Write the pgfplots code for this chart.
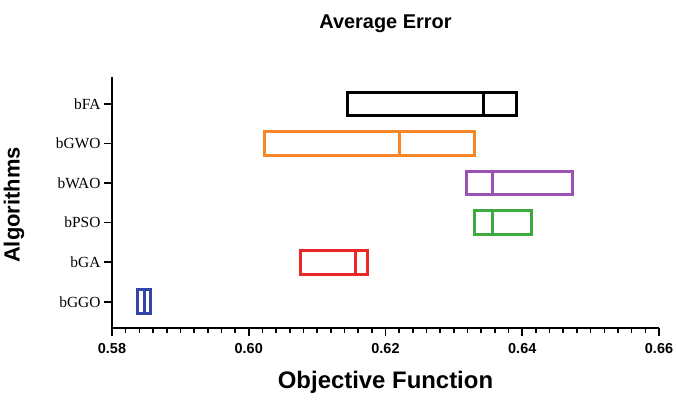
\documentclass[border=0pt]{standalone}
\usepackage{pgfplots}
\pgfplotsset{compat=1.18}
\usepgfplotslibrary{statistics}
\usepackage{fontspec}
\setmainfont{Liberation Sans}
\newfontfamily\seriffont{Liberation Serif}
\definecolor{cOrange}{RGB}{245,135,40}
\definecolor{cPurple}{RGB}{155,80,180}
\definecolor{cGreen}{RGB}{60,170,60}
\definecolor{cRed}{RGB}{235,40,40}
\definecolor{cBlue}{RGB}{50,70,170}
\begin{document}
\begin{tikzpicture}[x=1bp,y=1bp]
\path[use as bounding box] (0,0) rectangle (676,399);
\begin{axis}[
  at={(112bp,71bp)}, anchor=south west,
  scale only axis, width=547bp, height=251bp,
  xmin=0.58, xmax=0.66, ymin=-0.66, ymax=5.68,
  axis x line*=bottom, axis y line*=left,
  axis line style={line width=2.2bp, -},
  every tick/.style={black, line width=1.6bp},
  tick align=outside,
  major tick length=8bp, minor tick length=4.5bp,
  xtick={0.58,0.60,0.62,0.64,0.66},
  minor x tick num=9,
  ytick={0,1,2,3,4,5},
  yticklabels={bGGO,bGA,bPSO,bWAO,bGWO,bFA},
  /pgf/number format/assume math mode=true,
  xticklabel style={/pgf/number format/.cd, fixed, fixed zerofill, precision=2, /tikz/.cd, font=\bfseries\fontsize{14.5}{14.5}\selectfont, yshift=-4bp},
  yticklabel style={font=\seriffont\fontsize{15.5}{15.5}\selectfont},
  every axis title shift=0pt,
  title={Average Error},
  title style={at={(axis description cs:0.5,1.195)}, anchor=base, font=\bfseries\fontsize{20}{20}\selectfont},
  xlabel={Objective Function},
  xlabel style={at={(axis description cs:0.5,-0.243)}, anchor=base, font=\bfseries\fontsize{24}{24}\selectfont},
  ylabel={Algorithms},
  ylabel style={at={(axis description cs:-0.179,0.49)}, anchor=center, rotate=0, font=\bfseries\fontsize{22}{22}\selectfont},
  boxplot/every box/.style={line width=3bp},
  boxplot/every median/.style={line width=3bp},
  boxplot/every whisker/.style={line width=3bp},
  clip=false,
]
\addplot[black, line width=3bp, boxplot prepared={draw position=5, lower whisker=0.6144, lower quartile=0.6144, median=0.6343, upper quartile=0.6392, upper whisker=0.6392, box extend=0.6, whisker extend=0}] coordinates {};
\addplot[cOrange, line width=3bp, boxplot prepared={draw position=4, lower whisker=0.6023, lower quartile=0.6023, median=0.6221, upper quartile=0.6330, upper whisker=0.6330, box extend=0.6, whisker extend=0}] coordinates {};
\addplot[cPurple, line width=3bp, boxplot prepared={draw position=3, lower whisker=0.6318, lower quartile=0.6318, median=0.6357, upper quartile=0.6474, upper whisker=0.6474, box extend=0.6, whisker extend=0}] coordinates {};
\addplot[cGreen, line width=3bp, boxplot prepared={draw position=2, lower whisker=0.6330, lower quartile=0.6330, median=0.6357, upper quartile=0.6414, upper whisker=0.6414, box extend=0.6, whisker extend=0}] coordinates {};
\addplot[cRed, line width=3bp, boxplot prepared={draw position=1, lower whisker=0.6076, lower quartile=0.6076, median=0.6156, upper quartile=0.6174, upper whisker=0.6174, box extend=0.6, whisker extend=0}] coordinates {};
\addplot[cBlue, line width=3bp, boxplot prepared={draw position=0, lower whisker=0.5838, lower quartile=0.5838, median=0.5848, upper quartile=0.5856, upper whisker=0.5856, box extend=0.6, whisker extend=0}] coordinates {};
\end{axis}
\end{tikzpicture}
\end{document}
